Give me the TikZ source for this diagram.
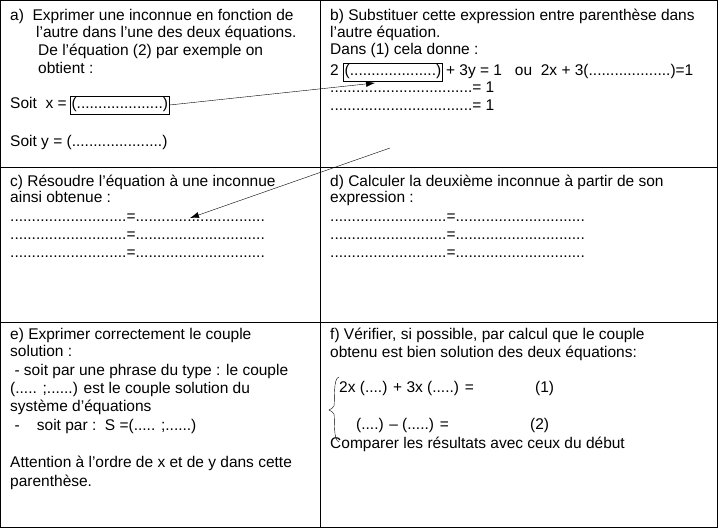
\documentclass[tikz,border=0pt]{standalone}
\usepackage{fontspec}
\setmainfont{Liberation Sans}
\usetikzlibrary{positioning,arrows.meta}
\begin{document}
\begin{tikzpicture}[x=1pt,y=-1pt,
    txt/.style={anchor=base west,inner sep=0pt,font=\fontsize{15.5}{17}\selectfont},
    boxed/.style={draw,inner sep=1.5pt,font=\fontsize{15.5}{17}\selectfont,anchor=base west}]
  \useasboundingbox (0,0) rectangle (718,529);
  % frame and grid
  \draw (0.5,0.5) rectangle (717.5,527.5);
  \draw (320,0.5) -- (320,527.5);
  \draw (0.5,167) -- (717.5,167);
  \draw (0.5,322) -- (717.5,322);

  % a)
  \node[txt] at (10,21) {a)\ \ Exprimer une inconnue en fonction de};
  \node[txt] at (36,38) {l'autre dans l'une des deux équations.};
  \node[txt] at (38,56) {De l'équation (2) par exemple on};
  \node[txt] at (38,74) {obtient :};
  \node[txt] (soitx) at (10,109) {Soit\ \ x =};
  \node[boxed] (xbox) at ([xshift=3pt]soitx.base east) {(....................)};
  \node[txt] at (10,147) {Soit y = (.....................)};

  % b)
  \node[txt] at (330,21) {b) Substituer cette expression entre parenthèse dans};
  \node[txt] at (330,38) {l'autre équation.};
  \node[txt] at (330,55) {Dans (1) cela donne :};
  \node[txt] (deux) at (330,76) {2};
  \node[boxed] (bbox) at ([xshift=4pt]deux.base east) {(....................)};
  \node[txt] at ([xshift=3pt]bbox.base east) {+ 3y = 1\ \ \ ou\ \ 2x + 3(...................)=1};
  \node[txt] at (330,93) {.................................= 1};
  \node[txt] at (330,111) {.................................= 1};

  % c)
  \node[txt] at (10,187) {c) Résoudre l'équation à une inconnue};
  \node[txt] at (10,203) {ainsi obtenue :};
  \foreach \yy in {222,240,258}
    \node[txt] at (10,\yy) {...........................=..............................};

  % d)
  \node[txt] at (330,187) {d) Calculer la deuxième inconnue à partir de son};
  \node[txt] at (330,203) {expression :};
  \foreach \yy in {222,240,258}
    \node[txt] at (330,\yy) {...........................=..............................};

  % e)
  \node[txt] at (10,340) {e) Exprimer correctement le couple};
  \node[txt] at (10,357) {solution :};
  \node[txt] at (10,376) {\ - soit par une phrase du type : le couple};
  \node[txt] at (10,394) {(..... ;......) est le couple solution du};
  \node[txt] at (10,412) {système d'équations};
  \node[txt] at (10,431) {\ -\ \ \ \ soit par :\ \ S =(..... ;......)};
  \node[txt] at (10,467) {Attention à l'ordre de x et de y dans cette};
  \node[txt] at (10,486) {parenthèse.};

  % f)
  \node[txt] at (330,340) {f) Vérifier, si possible, par calcul que le couple};
  \node[txt] at (330,358) {obtenu est bien solution des deux équations:};
  \node[txt] at (339,392) {2x (....) + 3x (.....) =};
  \node[txt] at (535,392) {(1)};
  \node[txt] at (356,429) {(....) –};
  \node[txt] at (402,429) {(.....) =};
  \node[txt] at (530,429) {(2)};
  \draw (339,377) .. controls (333,378) and (335,400) .. (334,406)
        .. controls (333,408) and (331,409) .. (329,410)
        .. controls (331,411) and (333,412) .. (334,414)
        .. controls (335,420) and (333,440) .. (339,442);
  \node[txt] at (330,448) {Comparer les résultats avec ceux du début};

  % arrows
  \coordinate (bhit) at (375,83);
  \coordinate (bfrom) at (390,148);
  \coordinate (chit) at (190,218);
  \draw[-{Latex[length=9pt,width=6pt]}] (xbox.east) -- (bhit);
  \draw[-{Latex[length=9pt,width=6pt]}] (bfrom) -- (chit);
\end{tikzpicture}
\end{document}
